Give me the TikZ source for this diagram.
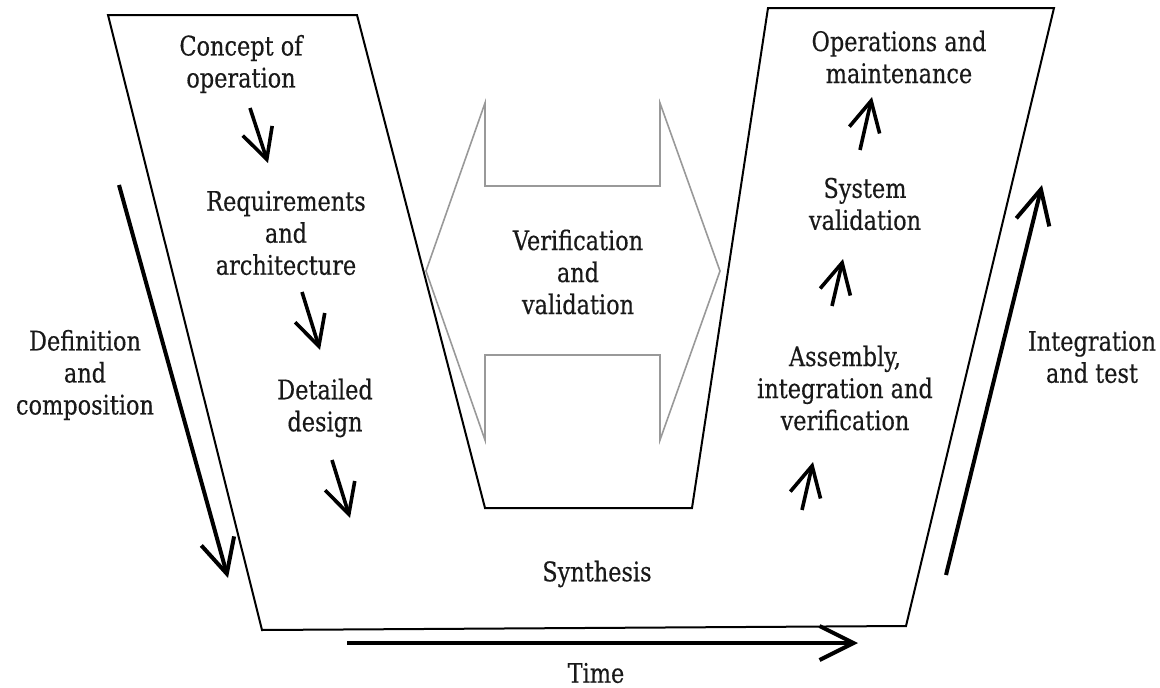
\documentclass[tikz,border=0pt]{standalone}
\usepackage{fontspec}
\setmainfont{DejaVu Serif}[FakeStretch=0.83,FakeBold=0.4]
\usetikzlibrary{arrows.meta}
\begin{document}
\begin{tikzpicture}[x=1pt,y=-1pt,
  lbl/.style={align=center,inner sep=0pt,font=\fontsize{27}{32}\selectfont,text=black!90},
  outline/.style={draw=black,line width=2pt,line join=miter},
  vvarrow/.style={draw=black!40,line width=1.6pt,line join=miter},
  bigarrow/.style={line width=4pt,-{Straight Barb[length=34pt,width=34pt]}},
  smallarrow/.style={line width=3.6pt,-{Straight Barb[length=30pt,width=31pt]}}]
\useasboundingbox (0,0) rectangle (1160,688);

% V-shaped process outline
\draw[outline] (108,15) -- (357,15) -- (485,508) -- (692,508) -- (768,8)
  -- (1054,8) -- (906,626) -- (262,630) -- cycle;

% double-headed verification arrow
\draw[vvarrow] (426,271) -- (485,103) -- (485,186) -- (660,186) -- (660,103)
  -- (720,271) -- (660,440) -- (660,355) -- (485,355) -- (485,440) -- cycle;

% stage labels
\node[lbl] (concept) at (241,64) {Concept of\\operation};
\node[lbl] (req) at (286,233) {Requirements\\and\\architecture};
\node[lbl] (detail) at (325,408) {Detailed\\design};
\node[lbl] (vv) at (578,272) {Verification\\and\\validation};
\node[lbl] (synth) at (597,574) {Synthesis};
\node[lbl] (ops) at (899,57) {Operations and\\maintenance};
\node[lbl] (sysval) at (865,204) {System\\validation};
\node[lbl] (aiv) at (845,388) {Assembly,\\integration and\\verification};
\node[lbl] (defcomp) at (85,375) {Definition\\and\\composition};
\node[lbl] (inttest) at (1092,357) {Integration\\and test};
\node[lbl] (time) at (596,673) {Time};

% descending steps
\coordinate (d1a) at (250,108); \coordinate (d1b) at (268,163);
\coordinate (d2a) at (302,292); \coordinate (d2b) at (320,350);
\coordinate (d3a) at (332,460); \coordinate (d3b) at (350,518);
\draw[smallarrow] (d1a) -- (d1b);
\draw[smallarrow] (d2a) -- (d2b);
\draw[smallarrow] (d3a) -- (d3b);

% ascending steps
\coordinate (u1a) at (802,510); \coordinate (u1b) at (813,462);
\coordinate (u2a) at (832,306); \coordinate (u2b) at (843,259);
\coordinate (u3a) at (860,150); \coordinate (u3b) at (872,97);
\draw[smallarrow] (u1a) -- (u1b);
\draw[smallarrow] (u2a) -- (u2b);
\draw[smallarrow] (u3a) -- (u3b);

% phase arrows
\coordinate (defA) at (119,185); \coordinate (defB) at (228,578);
\coordinate (intA) at (946,575); \coordinate (intB) at (1042,185);
\coordinate (timeA) at (347,643); \coordinate (timeB) at (858,643);
\draw[bigarrow] (defA) -- (defB);
\draw[bigarrow] (intA) -- (intB);
\draw[bigarrow] (timeA) -- (timeB);
\end{tikzpicture}
\end{document}
